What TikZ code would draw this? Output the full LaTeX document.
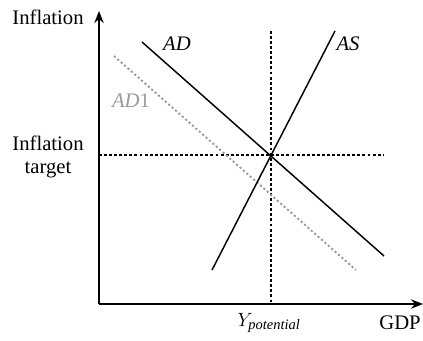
\documentclass[tikz,border=0pt]{standalone}
\usepackage{fontspec}
\setmainfont{Liberation Serif}
\usetikzlibrary{arrows.meta}
\begin{document}
\begin{tikzpicture}[x=0.75pt,y=-0.75pt,
  lbl/.style={font=\fontsize{15.5}{17.5}\selectfont, inner sep=0pt},
  axis/.style={line width=1.4pt,-{Stealth[length=9pt,width=7pt]}},
  curve/.style={line width=1.1pt},
  guide/.style={line width=1.4pt,dash pattern=on 2.2pt off 1.6pt},
  gcurve/.style={line width=1.4pt,gray!80,dash pattern=on 1.6pt off 1.8pt}]
\useasboundingbox (0,0) rectangle (423,341);
% coordinates
\coordinate (O) at (99,304);
\coordinate (ytop) at (99,11);
\coordinate (xend) at (423,304);
\coordinate (ad1) at (142,42);
\coordinate (ad2) at (384,256);
\coordinate (adb1) at (114,56);
\coordinate (adb2) at (356,270);
\coordinate (as1) at (212,270);
\coordinate (as2) at (335,31);
\coordinate (hl) at (99,155);
\coordinate (hr) at (384,155);
\coordinate (vt) at (271,31);
\coordinate (vb) at (271,304);
% axes
\draw[axis] (O) -- (ytop);
\draw[axis] (O) -- (xend);
% guides
\draw[guide] (hl) -- (hr);
\draw[guide] (vt) -- (vb);
% curves
\draw[gcurve] (adb1) -- (adb2);
\draw[curve] (ad1) -- (ad2);
\draw[curve] (as1) -- (as2);
% labels
\node[lbl] (infl) at (48,17) {Inflation};
\node[lbl,align=center] (target) at (48,157) {Inflation\\target};
\node[lbl] (gdp) at (400,323) {GDP};
\node[lbl] (ypot) at (269,323) {$Y_{\mathit{potential}}$};
\node[lbl] (adl) at (177,44) {\textit{AD}};
\node[lbl] (asl) at (348,44) {\textit{AS}};
\node[lbl,text=gray!80] (adbl) at (131,101) {\textit{AD}1};
\end{tikzpicture}
\end{document}
